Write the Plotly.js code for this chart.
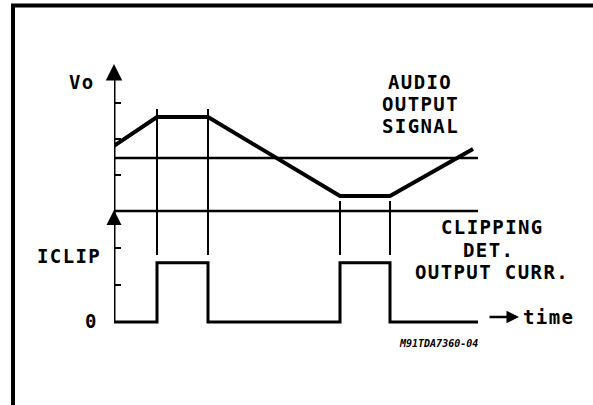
<!DOCTYPE html>
<html>
<head>
<meta charset="utf-8">
<script src="https://cdn.plot.ly/plotly-3.0.1.min.js"></script>
<style>
  html, body { margin: 0; padding: 0; background: #fff; }
  #chart { width: 593px; height: 405px; }
</style>
</head>
<body>
<div id="chart"></div>
<script>
// ---- data (time in arbitrary units, Vo and Iclip in arbitrary units) ----
var signalTime   = [0, 4.3, 9.4, 22.6, 27.6, 35.9];
var signalVo     = [1.81, 2.61, 2.61, 0.42, 0.42, 1.72];
var midLevel     = 1.47;
var clipStart    = [4.3, 22.6];
var clipEnd      = [9.4, 27.6];
var iclipTime    = [0, 4.3, 9.4, 22.6, 27.6, 36.4];
var iclipValue   = [0, 1.6, 0, 1.6, 0, 0];
var timeEnd      = 36.4;
var voTicks      = [1, 2, 3];
var iTicks       = [1, 2];

// ---- layout helpers (pixel -> paper) ----
var L = 114, W = 364, T = 66, H = 260;
function px(x) { return (x - L) / W; }
function py(y) { return (T + H - y) / H; }
var split = py(211);

var FONT = 'DejaVu Sans Mono';
function sp(t) { return '<span style="letter-spacing:1.4px">' + t + '</span>'; }
function label(text, x, y, size, anchor) {
  return {
    text: sp(text), xref: 'paper', yref: 'paper', x: px(x), y: py(y),
    xanchor: anchor || 'center', yanchor: 'middle', showarrow: false,
    font: { family: FONT, size: size || 19, color: '#000', weight: 'bold' }
  };
}

var traces = [
  { x: signalTime, y: signalVo, xaxis: 'x', yaxis: 'y', mode: 'lines',
    line: { color: '#000', width: 4 }, hoverinfo: 'skip' },
  { x: iclipTime, y: iclipValue, xaxis: 'x', yaxis: 'y2', mode: 'lines',
    line: { color: '#000', width: 3, shape: 'hv' }, hoverinfo: 'skip' }
];

var shapes = [
  // outer frame
  { type: 'path', xref: 'paper', yref: 'paper',
    path: 'M ' + px(13) + ' ' + py(430) + ' L ' + px(13) + ' ' + py(5.5) + ' L ' + px(620) + ' ' + py(5.5),
    line: { color: '#000', width: 4 } },
  // y axis line
  { type: 'line', xref: 'x', yref: 'paper', x0: 0, x1: 0, y0: py(322), y1: py(70),
    line: { color: '#000', width: 3 } },
  // signal mid line
  { type: 'line', xref: 'x', yref: 'y', x0: 0, x1: timeEnd, y0: midLevel, y1: midLevel,
    line: { color: '#000', width: 2.5 } },
  // separator / lower axis top
  { type: 'line', xref: 'x', yref: 'paper', x0: 0, x1: timeEnd, y0: split, y1: split,
    line: { color: '#000', width: 2.5 } }
];
// vertical markers at clipping edges
[clipStart[0], clipEnd[0]].forEach(function (t) {
  shapes.push({ type: 'line', xref: 'x', yref: 'paper', x0: t, x1: t, y0: py(109), y1: py(255),
    line: { color: '#000', width: 2 } });
});
[clipStart[1], clipEnd[1]].forEach(function (t) {
  shapes.push({ type: 'line', xref: 'x', yref: 'paper', x0: t, x1: t, y0: py(201), y1: py(255),
    line: { color: '#000', width: 2 } });
});

var annotations = [
  label('Vo', 82, 81.5),
  label('AUDIO', 420, 81.5),
  label('OUTPUT', 420, 104),
  label('SIGNAL', 420, 125.5),
  label('CLIPPING', 492, 227),
  label('DET.', 489, 250),
  label('OUTPUT CURR.', 492, 272),
  label('ICLIP', 103, 256, 19, 'right'),
  label('0', 91, 321),
  label('time', 521, 317, 19, 'left'),
  { text: '<i>M91TDA7360-04</i>', xref: 'paper', yref: 'paper', x: px(438), y: py(343.5),
    xanchor: 'center', yanchor: 'middle', showarrow: false,
    font: { family: FONT, size: 10, color: '#000', weight: 'bold' } },
  // axis arrowheads
  { text: '', xref: 'x', yref: 'paper', x: 0, y: py(64), ax: 0, ay: 14,
    showarrow: true, arrowhead: 2, arrowsize: 1.1, arrowwidth: 3, arrowcolor: '#000' },
  { text: '', xref: 'x', yref: 'paper', x: 0, y: py(210), ax: 0, ay: 12,
    showarrow: true, arrowhead: 2, arrowsize: 1.0, arrowwidth: 3, arrowcolor: '#000' },
  // time arrow
  { text: '', xref: 'paper', yref: 'paper', x: px(519), y: py(317), ax: -31, ay: 0,
    showarrow: true, arrowhead: 2, arrowsize: 1.0, arrowwidth: 2.5, arrowcolor: '#000' }
];

var axisCommon = {
  showline: false, showgrid: false, zeroline: false, showticklabels: false,
  ticks: 'inside', ticklen: 7, tickwidth: 2.5, tickcolor: '#000', fixedrange: true
};

var layout = {
  width: 593, height: 405,
  margin: { l: L, r: 593 - L - W, t: T, b: 405 - T - H, pad: 0 },
  paper_bgcolor: '#fff', plot_bgcolor: '#fff',
  showlegend: false,
  xaxis: { range: [0, timeEnd], visible: false, anchor: 'y2', fixedrange: true },
  yaxis: Object.assign({}, axisCommon, { domain: [split, 1], range: [0, 145 / 36], tickvals: voTicks, anchor: 'x' }),
  yaxis2: Object.assign({}, axisCommon, { domain: [0, split], range: [-4 / 37, 3], tickvals: iTicks, anchor: 'x' }),
  shapes: shapes,
  annotations: annotations
};

Plotly.newPlot('chart', traces, layout, { staticPlot: true, displayModeBar: false });
</script>
</body>
</html>
